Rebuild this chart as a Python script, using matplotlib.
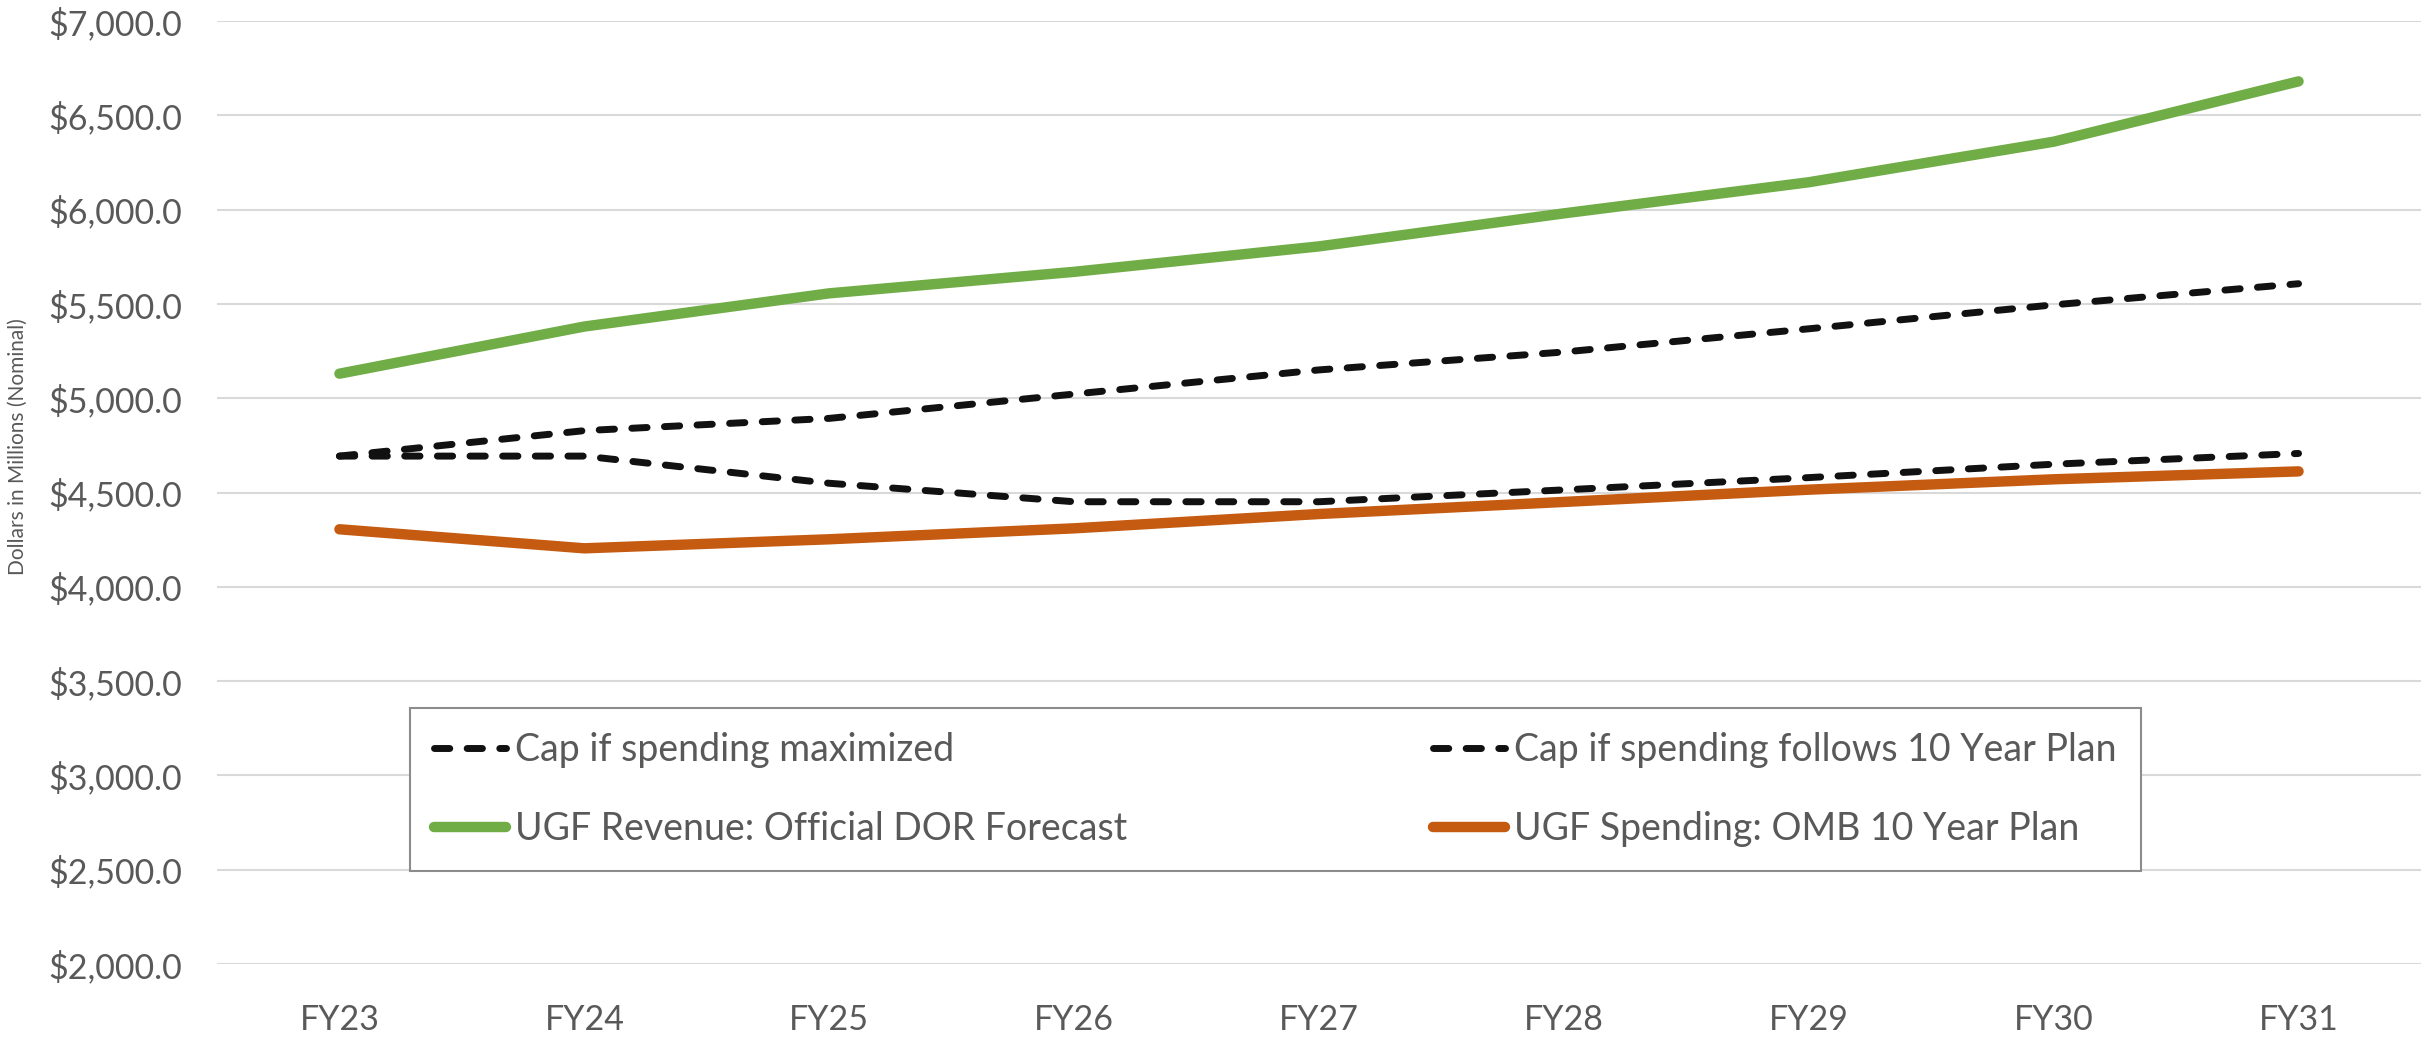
import matplotlib
matplotlib.use("Agg")
import matplotlib.pyplot as plt
from matplotlib.ticker import FuncFormatter

plt.rcParams['font.family'] = ['Lato', 'DejaVu Sans']

years = ['FY23', 'FY24', 'FY25', 'FY26', 'FY27', 'FY28', 'FY29', 'FY30', 'FY31']

# values, $ millions
cap_max = [4693, 4828, 4893, 5022, 5150, 5245, 5368, 5495, 5607]
cap_plan = [4693, 4693, 4549, 4451, 4451, 4514, 4579, 4650, 4707]
ugf_revenue = [5130, 5380, 5556, 5670, 5805, 5980, 6145, 6360, 6680]
ugf_spending = [4305, 4204, 4252, 4310, 4386, 4450, 4515, 4570, 4612]

W, H = 2427, 1038
fig = plt.figure(figsize=(W / 100, H / 100), dpi=100)
ax = fig.add_axes([217 / W, 1 - 964 / H, (2421 - 217) / W, (964 - 21) / H])

x = list(range(len(years)))
text_color = '#595959'

l1, = ax.plot(x, cap_max, color='#111111', lw=5, ls=(0, (2.2, 2.5)),
              dash_capstyle='round', label='Cap if spending maximized', zorder=3)
l3, = ax.plot(x, cap_plan, color='#111111', lw=5, ls=(0, (2.2, 2.5)),
              dash_capstyle='round', label='Cap if spending follows 10 Year Plan', zorder=3)
l2, = ax.plot(x, ugf_revenue, color='#70AD47', lw=7.5, solid_capstyle='round',
              label='UGF Revenue: Official DOR Forecast', zorder=3)
l4, = ax.plot(x, ugf_spending, color='#C55A11', lw=7.5, solid_capstyle='round',
              label='UGF Spending: OMB 10 Year Plan', zorder=3)

ax.set_xlim(-0.5, len(years) - 0.5)
ax.set_ylim(2000, 7000)
ax.set_yticks(range(2000, 7001, 500))
ax.yaxis.set_major_formatter(FuncFormatter(lambda v, p: f'${v:,.1f}'))
ax.set_xticks(x)
ax.set_xticklabels(years)

ax.grid(axis='y', color='#d9d9d9', lw=1.5)
ax.set_axisbelow(True)
for s in ax.spines.values():
    s.set_visible(False)
ax.tick_params(axis='both', length=0, labelsize=24.5, labelcolor=text_color)
ax.tick_params(axis='y', pad=25)
ax.tick_params(axis='x', pad=29)

fig.text(18 / W, 1 - 447 / H, 'Dollars in Millions (Nominal)', rotation=90,
         ha='center', va='center', fontsize=15, color=text_color)

leg = ax.legend(handles=[l1, l2, l3, l4], ncol=2, mode='expand',
                loc='center left', borderaxespad=0,
                bbox_to_anchor=(410 / W, 1 - 870 / H, (2141 - 410) / W, (870 - 709) / H),
                bbox_transform=fig.transFigure,
                fontsize=27, handlelength=1.9, handletextpad=0.25,
                labelspacing=1.15, borderpad=0.65, fancybox=False,
                framealpha=1, edgecolor='#8c8c8c')
leg.get_frame().set_linewidth(1.5)
for t in leg.get_texts():
    t.set_color(text_color)

fig.savefig('out.png', dpi=100)
